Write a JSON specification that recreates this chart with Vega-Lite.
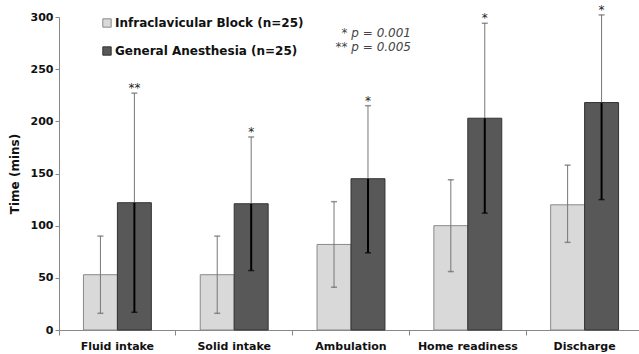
{
  "$schema": "https://vega.github.io/schema/vega-lite/v6.json",
  "width": 584,
  "height": 313,
  "autosize": {"type": "none"},
  "padding": {"left": 59, "top": 17, "right": 0, "bottom": 24},
  "background": "white",
  "config": {
    "view": {"stroke": null},
    "font": "DejaVu Sans"
  },
  "data": {
    "values": [
      {"cat": "Fluid intake", "group": "Infraclavicular Block (n=25)", "mean": 53, "lo": 16, "hi": 90, "sig": ""},
      {"cat": "Fluid intake", "group": "General Anesthesia (n=25)", "mean": 122, "lo": 17, "hi": 227, "sig": "**"},
      {"cat": "Solid intake", "group": "Infraclavicular Block (n=25)", "mean": 53, "lo": 16, "hi": 90, "sig": ""},
      {"cat": "Solid intake", "group": "General Anesthesia (n=25)", "mean": 121, "lo": 57, "hi": 185, "sig": "*"},
      {"cat": "Ambulation", "group": "Infraclavicular Block (n=25)", "mean": 82, "lo": 41, "hi": 123, "sig": ""},
      {"cat": "Ambulation", "group": "General Anesthesia (n=25)", "mean": 145, "lo": 74, "hi": 215, "sig": "*"},
      {"cat": "Home readiness", "group": "Infraclavicular Block (n=25)", "mean": 100, "lo": 56, "hi": 144, "sig": ""},
      {"cat": "Home readiness", "group": "General Anesthesia (n=25)", "mean": 203, "lo": 112, "hi": 294, "sig": "*"},
      {"cat": "Discharge", "group": "Infraclavicular Block (n=25)", "mean": 120, "lo": 84, "hi": 158, "sig": ""},
      {"cat": "Discharge", "group": "General Anesthesia (n=25)", "mean": 218, "lo": 125, "hi": 302, "sig": "*"}
    ]
  },
  "encoding": {
    "x": {
      "field": "cat", "type": "nominal", "sort": null,
      "scale": {"paddingInner": 0, "paddingOuter": 0},
      "axis": {
        "title": null, "labelAngle": 0, "labelFontWeight": "bold", "labelFontSize": 11,
        "labelColor": "#111", "domainColor": "#888", "tickColor": "#888", "tickSize": 5,
        "bandPosition": 0, "labelPadding": 5
      }
    },
    "xOffset": {
      "field": "group", "type": "nominal",
      "sort": ["Infraclavicular Block (n=25)", "General Anesthesia (n=25)"],
      "scale": {"paddingInner": 0, "paddingOuter": 0.72}
    }
  },
  "layer": [
    {
      "mark": {"type": "bar", "strokeWidth": 1},
      "encoding": {
        "y": {
          "field": "mean", "type": "quantitative",
          "scale": {"domain": [0, 300], "nice": false},
          "axis": {
            "title": "Time (mins)", "titleFontWeight": "bold", "titleFontSize": 12, "titleColor": "#111",
            "values": [0, 50, 100, 150, 200, 250, 300], "grid": false,
            "labelFontWeight": "bold", "labelFontSize": 11, "labelColor": "#111",
            "domainColor": "#888", "tickColor": "#888", "tickSize": 4, "titlePadding": 9
          }
        },
        "color": {
          "field": "group", "type": "nominal",
          "scale": {"domain": ["Infraclavicular Block (n=25)", "General Anesthesia (n=25)"], "range": ["#d9d9d9", "#585858"]},
          "legend": {
            "title": null, "orient": "none", "legendX": 42, "legendY": 0, "direction": "vertical",
            "symbolType": "square", "symbolSize": 70, "symbolStrokeColor": "#555", "symbolStrokeWidth": 1,
            "labelFontWeight": "bold", "labelFontSize": 12, "labelColor": "#111", "rowPadding": 14, "labelOffset": 2, "labelLimit": 0
          }
        },
        "stroke": {
          "field": "group", "type": "nominal",
          "scale": {"domain": ["Infraclavicular Block (n=25)", "General Anesthesia (n=25)"], "range": ["#8a8a8a", "#333333"]},
          "legend": null
        }
      }
    },
    {
      "mark": {"type": "rule", "color": "#777", "strokeWidth": 1},
      "encoding": {
        "y": {"field": "lo", "type": "quantitative"},
        "y2": {"field": "hi"}
      }
    },
    {
      "transform": [{"filter": "datum.group == 'General Anesthesia (n=25)'"}],
      "mark": {"type": "rule", "color": "#000", "strokeWidth": 2},
      "encoding": {
        "y": {"field": "lo", "type": "quantitative"},
        "y2": {"field": "mean"}
      }
    },
    {
      "mark": {"type": "tick", "color": "#666", "size": 6, "thickness": 1.5},
      "encoding": {"y": {"field": "hi", "type": "quantitative"}}
    },
    {
      "mark": {"type": "tick", "size": 6, "thickness": 1.5},
      "encoding": {
        "y": {"field": "lo", "type": "quantitative"},
        "color": {"condition": {"test": "datum.group == 'General Anesthesia (n=25)'", "value": "#000"}, "value": "#666"}
      }
    },
    {
      "mark": {"type": "text", "dy": -1, "fontSize": 12, "color": "#222", "baseline": "alphabetic"},
      "encoding": {
        "y": {"field": "hi", "type": "quantitative"},
        "text": {"field": "sig"}
      }
    },
    {
      "data": {"values": [{"cat": "Ambulation", "v": 285, "label": ["* p = 0.001", "** p = 0.005"]}]},
      "mark": {"type": "text", "align": "right", "baseline": "middle", "fontStyle": "italic", "fontSize": 12, "color": "#444", "dx": 60, "lineHeight": 14},
      "encoding": {
        "x": {"field": "cat", "type": "nominal"},
        "xOffset": null,
        "y": {"field": "v", "type": "quantitative"},
        "text": {"field": "label"}
      }
    }
  ]
}
